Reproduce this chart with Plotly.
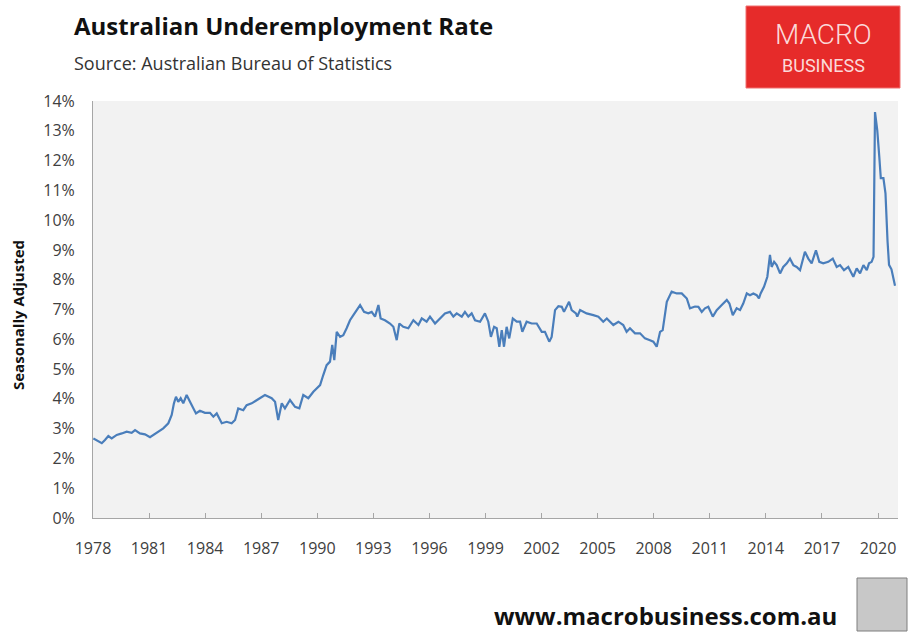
import plotly.graph_objects as go

# ---- data ----
years = [
    1978.02, 1978.28, 1978.47, 1978.64, 1978.82, 1979.00, 1979.27, 1979.54, 1979.80, 1980.07,
    1980.25, 1980.51, 1980.78, 1981.05, 1981.23, 1981.49, 1981.76, 1982.03, 1982.21, 1982.33,
    1982.44, 1982.56, 1982.69, 1982.83, 1983.01, 1983.19, 1983.51, 1983.72, 1983.99, 1984.26,
    1984.44, 1984.62, 1984.89, 1985.15, 1985.42, 1985.60, 1985.77, 1986.04, 1986.22, 1986.49,
    1986.76, 1987.03, 1987.20, 1987.56, 1987.74, 1987.91, 1988.10, 1988.27, 1988.54, 1988.81,
    1989.04, 1989.25, 1989.52, 1989.79, 1990.15, 1990.32, 1990.50, 1990.68, 1990.80, 1990.91,
    1991.04, 1991.22, 1991.39, 1991.57, 1991.75, 1991.93, 1992.11, 1992.29, 1992.50, 1992.73,
    1992.91, 1993.09, 1993.27, 1993.39, 1993.62, 1993.89, 1994.07, 1994.25, 1994.39, 1994.60,
    1994.87, 1995.14, 1995.41, 1995.59, 1995.85, 1996.03, 1996.30, 1996.57, 1996.83, 1997.10,
    1997.28, 1997.46, 1997.73, 1997.90, 1998.08, 1998.26, 1998.44, 1998.71, 1998.97, 1999.15,
    1999.29, 1999.46, 1999.60, 1999.74, 1999.87, 1999.99, 2000.13, 2000.27, 2000.46, 2000.67,
    2000.85, 2000.97, 2001.20, 2001.47, 2001.74, 2002.01, 2002.18, 2002.41, 2002.54, 2002.72,
    2002.90, 2003.08, 2003.20, 2003.47, 2003.61, 2003.84, 2003.91, 2004.06, 2004.41, 2004.77,
    2005.04, 2005.30, 2005.49, 2005.84, 2006.11, 2006.37, 2006.55, 2006.73, 2007.00, 2007.27,
    2007.53, 2007.80, 2007.98, 2008.16, 2008.34, 2008.48, 2008.70, 2008.96, 2009.23, 2009.50,
    2009.77, 2009.94, 2010.21, 2010.39, 2010.57, 2010.74, 2010.92, 2011.16, 2011.37, 2011.64,
    2011.91, 2012.05, 2012.23, 2012.44, 2012.62, 2012.79, 2012.98, 2013.15, 2013.33, 2013.51,
    2013.63, 2013.72, 2013.90, 2014.08, 2014.22, 2014.31, 2014.44, 2014.58, 2014.76, 2014.93,
    2015.12, 2015.29, 2015.47, 2015.65, 2015.83, 2016.09, 2016.27, 2016.45, 2016.68, 2016.86,
    2017.07, 2017.34, 2017.58, 2017.79, 2017.97, 2018.18, 2018.41, 2018.68, 2018.86, 2019.04,
    2019.22, 2019.40, 2019.52, 2019.66, 2019.76, 2019.84, 2019.96, 2020.07, 2020.15, 2020.29,
    2020.40, 2020.51, 2020.59, 2020.72, 2020.91,
]
rate = [
    2.67, 2.59, 2.51, 2.62, 2.75, 2.67, 2.79, 2.84, 2.90, 2.86,
    2.95, 2.84, 2.81, 2.71, 2.79, 2.90, 3.01, 3.18, 3.46, 3.85,
    4.07, 3.90, 4.02, 3.85, 4.13, 3.90, 3.51, 3.60, 3.53, 3.53,
    3.40, 3.51, 3.18, 3.23, 3.18, 3.29, 3.68, 3.62, 3.79, 3.85,
    3.96, 4.07, 4.13, 4.02, 3.90, 3.29, 3.85, 3.68, 3.96, 3.73,
    3.68, 4.13, 4.02, 4.24, 4.46, 4.80, 5.13, 5.25, 5.81, 5.30,
    6.25, 6.08, 6.14, 6.37, 6.64, 6.81, 6.98, 7.15, 6.92, 6.87,
    6.92, 6.76, 7.15, 6.70, 6.64, 6.53, 6.42, 5.97, 6.53, 6.42,
    6.37, 6.64, 6.48, 6.70, 6.59, 6.76, 6.53, 6.70, 6.87, 6.92,
    6.76, 6.87, 6.76, 6.92, 6.76, 6.87, 6.64, 6.59, 6.87, 6.59,
    6.08, 6.42, 6.37, 5.75, 6.31, 5.75, 6.42, 6.03, 6.70, 6.59,
    6.59, 6.25, 6.59, 6.53, 6.53, 6.25, 6.25, 5.92, 6.08, 6.98,
    7.11, 7.09, 6.92, 7.26, 6.98, 6.87, 6.76, 6.98, 6.87, 6.81,
    6.76, 6.59, 6.70, 6.48, 6.59, 6.48, 6.25, 6.37, 6.20, 6.20,
    6.03, 5.97, 5.92, 5.75, 6.25, 6.31, 7.26, 7.60, 7.54, 7.54,
    7.37, 7.04, 7.10, 7.09, 6.92, 7.04, 7.09, 6.76, 6.98, 7.15,
    7.32, 7.20, 6.81, 7.04, 6.98, 7.20, 7.54, 7.48, 7.54, 7.48,
    7.37, 7.54, 7.76, 8.10, 8.83, 8.43, 8.60, 8.49, 8.21, 8.43,
    8.55, 8.71, 8.49, 8.43, 8.32, 8.94, 8.71, 8.55, 8.99, 8.60,
    8.55, 8.60, 8.71, 8.43, 8.49, 8.32, 8.43, 8.10, 8.38, 8.21,
    8.49, 8.32, 8.55, 8.60, 8.77, 13.63, 13.02, 12.12, 11.41, 11.41,
    10.90, 9.30, 8.50, 8.35, 7.80,
]
x_ticks = [1978, 1981, 1984, 1987, 1990, 1993, 1996, 1999, 2002, 2005, 2008, 2011, 2014, 2017, 2020]
y_ticks = list(range(0, 15))

title_text = "Australian Underemployment Rate"
subtitle_text = "Source: Australian Bureau of Statistics"
y_title = "Seasonally Adjusted"
footer_text = "www.macrobusiness.com.au"

# ---- layout geometry (pixels) ----
W, H = 908, 632
L, R, T, B = 93, 10, 101, 114
PW, PH = W - L - R, H - T - B


def px(x):
    return (x - L) / PW


def py(y):
    return (H - B - y) / PH


fig = go.Figure()
fig.add_trace(go.Scatter(
    x=years, y=rate, mode="lines",
    line=dict(color="#4A7EBB", width=2.2),
    hoverinfo="skip", showlegend=False,
))

fig.update_layout(
    width=W, height=H,
    margin=dict(l=L, r=R, t=T, b=B, pad=0),
    paper_bgcolor="white",
    plot_bgcolor="#F2F2F2",
    font=dict(family="Open Sans", color="#595959"),
    xaxis=dict(
        range=[1978, 2021.07],
        tickmode="array", tickvals=x_ticks, ticktext=[str(t) for t in x_ticks],
        ticks="inside", ticklen=5, tickcolor="#A6A6A6", tickwidth=1,
        showline=True, linecolor="#A6A6A6", linewidth=1,
        showgrid=False, zeroline=False,
        tickfont=dict(size=16, color="#404040"),
        ticklabelstandoff=16,
    ),
    yaxis=dict(
        range=[0, 14],
        tickmode="array", tickvals=y_ticks, ticktext=[f"{t}%" for t in y_ticks],
        ticks="", showline=True, linecolor="#A6A6A6", linewidth=1,
        showgrid=False, zeroline=False,
        tickfont=dict(size=16, color="#404040"),
        ticklabelstandoff=14,
    ),
)

shapes = [
    # logo box
    dict(type="rect", xref="paper", yref="paper",
         x0=px(746), x1=px(900), y0=py(88), y1=py(6),
         fillcolor="#E62B2A", line=dict(color="#F07070", width=1), layer="above"),
    # small image placeholder at bottom right
    dict(type="rect", xref="paper", yref="paper",
         x0=px(857), x1=px(907), y0=py(631), y1=py(578),
         fillcolor="#C8C8C8", line=dict(color="#7F7F7F", width=1), layer="above"),
]
fig.update_layout(shapes=shapes)

ann = [
    dict(text=title_text, x=px(72), y=py(25), xanchor="left", yanchor="middle",
         font=dict(family="Open Sans", size=24, color="#111111", weight="bold")),
    dict(text=subtitle_text, x=px(72), y=py(63), xanchor="left", yanchor="middle",
         font=dict(family="Open Sans", size=18, color="#333333")),
    dict(text=y_title, x=px(18), y=py(315), xanchor="center", yanchor="middle",
         textangle=-90, font=dict(family="Open Sans", size=15, color="#111111", weight="bold")),
    dict(text=footer_text, x=px(665), y=py(615), xanchor="center", yanchor="middle",
         font=dict(family="Open Sans", size=24, color="#111111", weight="bold")),
    dict(text="MACRO", x=px(823), y=py(34), xanchor="center", yanchor="middle",
         font=dict(family="Roboto", size=28, color="#FBD9D9", weight=300)),
    dict(text="BUSINESS", x=px(823), y=py(65), xanchor="center", yanchor="middle",
         font=dict(family="Roboto", size=18, color="#FBD9D9", weight=400)),
]
for a in ann:
    a.update(xref="paper", yref="paper", showarrow=False)
fig.update_layout(annotations=ann)

fig.write_html(
    "out.html",
    config={"displayModeBar": False},
    post_script="document.body.style.margin='0px';document.body.style.overflow='hidden';",
)
